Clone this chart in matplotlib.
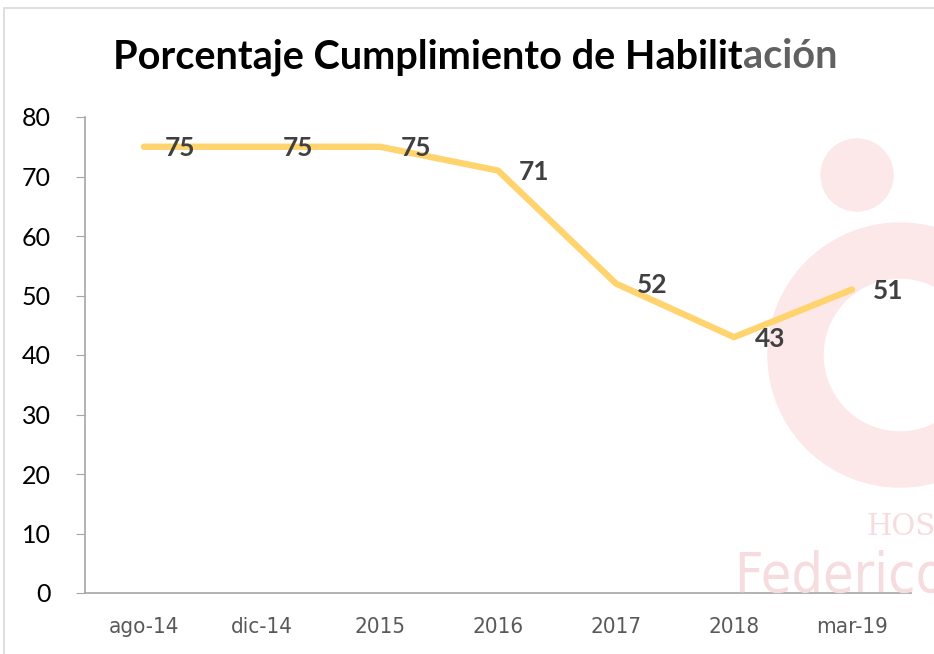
import matplotlib
matplotlib.use("Agg")
import matplotlib.pyplot as plt
from matplotlib.patches import Circle, Wedge, Rectangle

categories = ["ago-14", "dic-14", "2015", "2016", "2017", "2018", "mar-19"]
values = [75, 75, 75, 71, 52, 43, 51]
yticks = [0, 10, 20, 30, 40, 50, 60, 70, 80]

W, H = 934, 654
fig = plt.figure(figsize=(W / 100, H / 100), dpi=100)
fig.patch.set_facecolor("white")
FONT = ["Lato", "DejaVu Sans"]


def px(x, y):
    # pixel coords (top-left origin) -> figure fraction
    return x / W, 1 - y / H


# light frame round the chart area
fig.add_artist(Rectangle(px(4, 700), 1.2, (700 - 8) / H, transform=fig.transFigure,
                         fill=False, edgecolor="#d9d9d9", lw=1.2))

# faint hospital watermark behind the plot
wm = "#fce7e9"
fig.add_artist(Circle((857, H - 175), 36, transform=None, color=wm, zorder=0))
fig.add_artist(Wedge((900, H - 355), 132, 10, 350, width=55, transform=None,
                     color=wm, zorder=0))
fig.text(*px(866, 535), "HOSP", fontsize=21, color="#f7dcdf", family="DejaVu Serif",
         va="baseline", zorder=0)
fig.text(*px(735, 592), "Federico Lle", fontsize=40, color="#f7dcdf",
         family="DejaVu Sans", fontstretch="condensed",
         va="baseline", zorder=0)

l, b = px(85, 593)
r, t = px(911, 117)
ax = fig.add_axes([l, b, r - l, t - b])
ax.patch.set_alpha(0)

x = list(range(len(categories)))
ax.plot(x, values, color="#ffd36e", lw=4.6, solid_joinstyle="round",
        solid_capstyle="round", zorder=3)
for xi, v in zip(x, values):
    ax.annotate(str(v), (xi, v), xytext=(26, -1), textcoords="offset points",
                ha="center", va="center", fontsize=19, fontweight="bold",
                color="#404040", family=FONT, zorder=4)

ax.set_xlim(-0.5, len(categories) - 0.5)
ax.set_ylim(0, 80)
ax.set_yticks(yticks)
ax.set_yticklabels([str(v) for v in yticks], fontsize=18, color="#000000", family=FONT)
ax.set_xticks(x)
ax.set_xticklabels(categories, fontsize=16, color="#595959",
                   family="DejaVu Sans", fontstretch="condensed")
ax.tick_params(axis="y", length=6.5, color="#a6a6a6", pad=18)
ax.tick_params(axis="x", length=0, pad=17)
for s in ["top", "right"]:
    ax.spines[s].set_visible(False)
for s in ["left", "bottom"]:
    ax.spines[s].set_color("#a6a6a6")
    ax.spines[s].set_linewidth(1.2)

# title, with the tail greyed as in the original
t1 = fig.text(*px(113, 57), "Porcentaje Cumplimiento de Habilit", fontsize=28.5,
              fontweight="bold", color="#000000", family=FONT,
              ha="left", va="center")
fig.canvas.draw()
bb = t1.get_window_extent()
fig.text(bb.x1 / W, px(0, 57)[1], "ación", fontsize=28.5, fontweight="bold",
         color="#616161", family=FONT, ha="left", va="center")

fig.savefig("out.png", dpi=100)
